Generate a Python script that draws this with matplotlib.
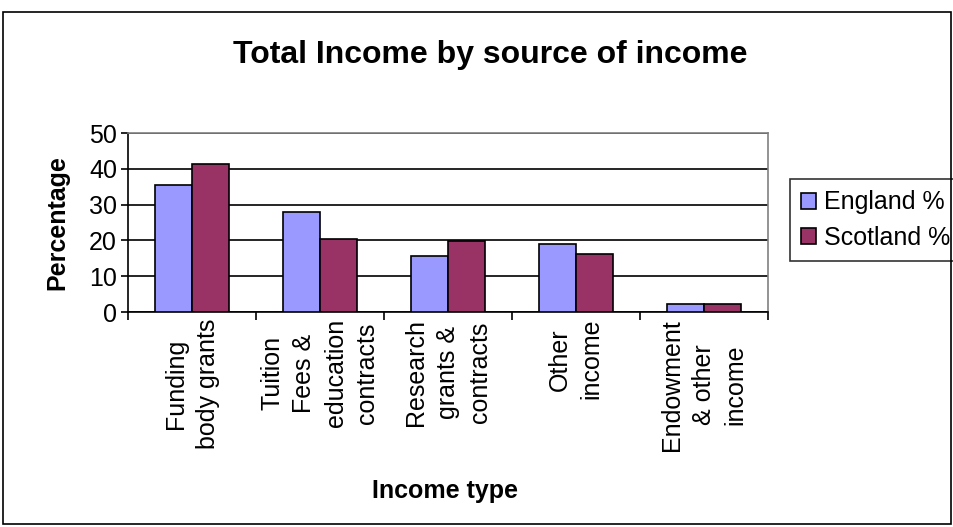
import matplotlib.pyplot as plt
import numpy as np
from matplotlib.patches import Rectangle

categories = ["Funding\nbody grants", "Tuition\nFees &\neducation\ncontracts",
              "Research\ngrants &\ncontracts", "Other\nincome",
              "Endowment\n& other\nincome"]
england = [35.4, 27.9, 15.6, 19.0, 2.1]
scotland = [41.3, 20.3, 19.8, 16.1, 2.1]
series_names = ["England %", "Scotland %"]
yticks = [0, 10, 20, 30, 40, 50]


def main():
    plt.rcParams['font.family'] = ['Liberation Sans', 'DejaVu Sans']
    fig = plt.figure(figsize=(9.54, 5.27), dpi=100)
    W, H = 954, 527
    ax = fig.add_axes([128 / W, 1 - 312 / H, (768 - 128) / W, (312 - 133) / H])

    # outer chart border
    fig.patches.append(Rectangle((3 / W, 3 / H), 948 / W, (524 - 12) / H,
                                 transform=fig.transFigure, fill=False,
                                 edgecolor='black', linewidth=1.2))

    x = np.arange(len(categories))
    bw = 0.29
    ax.bar(x - bw / 2, england, bw, color='#9999FF', edgecolor='black',
           linewidth=1.2, label=series_names[0], zorder=3)
    ax.bar(x + bw / 2, scotland, bw, color='#993366', edgecolor='black',
           linewidth=1.2, label=series_names[1], zorder=3)

    ax.set_xlim(-0.5, len(categories) - 0.5)
    ax.set_ylim(0, 50)
    ax.set_yticks(yticks)
    ax.yaxis.grid(True, color='black', linewidth=1.2, zorder=0)
    ax.tick_params(axis='y', labelsize=18, length=5, direction='out', width=1.2,
                   pad=3)

    # ticks between categories, labels at centres
    ax.set_xticks(np.arange(len(categories) + 1) - 0.5)
    ax.set_xticklabels([])
    ax.set_xticks(x, minor=True)
    ax.set_xticklabels(categories, minor=True, rotation=90, fontsize=18,
                       va='top', ha='center', multialignment='center',
                       linespacing=1.4)
    ax.tick_params(axis='x', which='major', length=6, width=1.2)
    ax.tick_params(axis='x', which='minor', length=0, pad=5)

    for s in ['top', 'right']:
        ax.spines[s].set_color('#808080')
        ax.spines[s].set_linewidth(1.2)
    for s in ['left', 'bottom']:
        ax.spines[s].set_linewidth(1.2)

    ax.set_ylabel('Percentage', fontsize=18, fontweight='bold', labelpad=14)
    fig.text(445 / W, 1 - 491 / H, 'Income type', fontsize=18,
             fontweight='bold', ha='center', va='center')
    fig.text(490 / W, 1 - 55 / H, 'Total Income by source of income',
             fontsize=23, fontweight='bold', ha='center', va='center')

    leg = ax.legend(loc='center left', bbox_to_anchor=(790 / W, 1 - 220 / H),
                    bbox_transform=fig.transFigure, fontsize=18, frameon=True,
                    fancybox=False, edgecolor='black', handlelength=0.6,
                    handleheight=0.6, handletextpad=0.3, borderpad=0.45,
                    labelspacing=0.45, borderaxespad=0)
    leg.get_frame().set_linewidth(1.2)

    plt.savefig('out.png', dpi=100)


if __name__ == '__main__':
    main()
